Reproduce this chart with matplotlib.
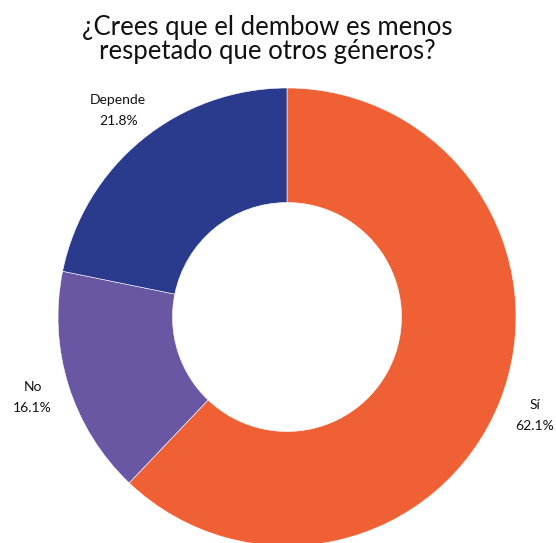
import matplotlib
matplotlib.use("Agg")
import matplotlib.pyplot as plt

categories = ["Sí", "No", "Depende"]
values = [62.1, 16.1, 21.8]
colors = ["#EF6035", "#6A57A3", "#2A3A8C"]
title = "¿Crees que el dembow es menos\nrespetado que otros géneros?"

plt.rcParams['font.family'] = ['Lato', 'DejaVu Sans']

fig = plt.figure(figsize=(5.56, 5.43), dpi=100)
R = 229
cx, cy = 287, 543 - 317
ax = fig.add_axes([(cx - R) / 556, (cy - R) / 543, 2 * R / 556, 2 * R / 543])
labels = [f"{c}\n{v:.1f}%" for c, v in zip(categories, values)]
wedges, texts = ax.pie(values, colors=colors, startangle=90, counterclock=False,
                       radius=1, labels=labels, labeldistance=1.165,
                       wedgeprops=dict(width=0.5, edgecolor="white", linewidth=0.4),
                       textprops=dict(fontsize=10, color="#111111", linespacing=1.9))
for t in texts:
    t.set_ha("center")
    t.set_va("center")
ax.set_xlim(-1, 1)
ax.set_ylim(-1, 1)
ax.set_aspect("equal")
ax.axis("off")

fig.text(0.480, 0.972, title, ha="center", va="top", fontsize=18.5,
         color="#111111", linespacing=0.95)
fig.savefig("out.png", dpi=100)
